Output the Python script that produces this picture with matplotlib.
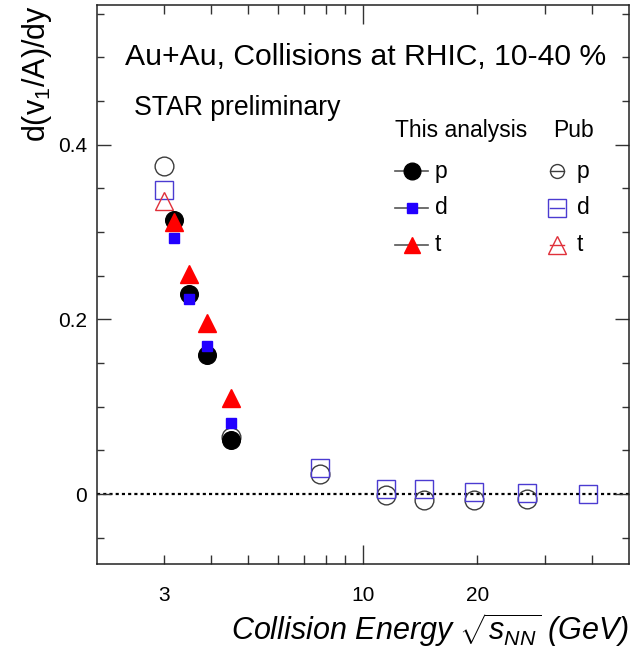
import matplotlib
matplotlib.use('Agg')
import matplotlib.pyplot as plt
from matplotlib.ticker import FixedLocator, MultipleLocator, FuncFormatter
from matplotlib.lines import Line2D

# Fontes estilo ROOT (Helvetica -> Liberation Sans)
plt.rcParams['font.family'] = 'Liberation Sans'
plt.rcParams['mathtext.fontset'] = 'custom'
plt.rcParams['mathtext.rm'] = 'Liberation Sans'
plt.rcParams['mathtext.it'] = 'Liberation Sans:italic'
plt.rcParams['mathtext.bf'] = 'Liberation Sans:bold'

# --- Dados ---
# Esta análise (pontos cheios)
energia_ta = [3.2, 3.5, 3.9, 4.5]
p_ta = [0.314, 0.229, 0.159, 0.062]
d_ta = [0.293, 0.223, 0.170, 0.082]
t_ta = [0.312, 0.252, 0.196, 0.110]

# Publicado (pontos abertos)
energia_pub_p = [3.0, 4.5, 7.7, 11.5, 14.5, 19.6, 27.0]
p_pub = [0.376, 0.065, 0.023, -0.001, -0.0065, -0.0065, -0.0054]
energia_pub_d = [3.0, 7.7, 11.5, 14.5, 19.6, 27.0, 39.0]
d_pub = [0.348, 0.0295, 0.0055, 0.006, 0.0026, 0.0015, 0.0003]
energia_pub_t = [3.0]
t_pub = [0.336]

rotulos_x = [3, 10, 20]

# cores
c_azul = '#2200ff'
c_vermelho = '#ff0000'
c_azul_pub = '#4b3bd1'
c_verm_pub = '#e0303a'
c_preto_pub = '#3c3c3c'

fig = plt.figure(figsize=(6.38, 6.52), dpi=100)
ax = fig.add_axes([96.7 / 638, 88 / 652, 532.3 / 638, 559 / 652])

# linha pontilhada em zero
ax.axhline(0, color='black', lw=1.6, ls=(0, (1.4, 1.4)), zorder=1)

# publicados
ax.plot(energia_pub_p, p_pub, 'o', ms=13.5, mfc='none', mec=c_preto_pub, mew=1.0, zorder=2)
ax.plot(energia_pub_d, d_pub, 's', ms=13.5, mfc='none', mec=c_azul_pub, mew=1.0, zorder=2)
ax.plot(energia_pub_t, t_pub, '^', ms=13.5, mfc='none', mec=c_verm_pub, mew=1.0, zorder=2)

# esta análise
ax.plot(energia_ta, p_ta, 'o', ms=12.7, color='black', mec='black', zorder=3)
ax.plot(energia_ta, d_ta, 's', ms=7.9, color=c_azul, mec=c_azul, zorder=4)
ax.plot(energia_ta, t_ta, '^', ms=12.6, color=c_vermelho, mec=c_vermelho, zorder=5)

# eixos
ax.set_xscale('log')
ax.set_xlim(2.0, 50)
ax.set_ylim(-0.08, 0.56)

fmt_x = FuncFormatter(lambda v, pos: f"{v:g}" if round(v) in rotulos_x else '')
ax.xaxis.set_major_locator(FixedLocator([10]))
ax.xaxis.set_minor_locator(FixedLocator([3, 4, 5, 6, 7, 8, 9, 20, 30, 40]))
ax.xaxis.set_major_formatter(fmt_x)
ax.xaxis.set_minor_formatter(fmt_x)

ax.yaxis.set_major_locator(MultipleLocator(0.2))
ax.yaxis.set_minor_locator(MultipleLocator(0.05))
ax.yaxis.set_major_formatter(FuncFormatter(lambda v, pos: f"{round(v, 2) + 0:g}"))

ax.tick_params(which='both', direction='in', top=True, right=True, color='#333333', labelsize=15)
ax.tick_params(axis='x', which='major', length=13.5, width=1.0, pad=16)
ax.tick_params(axis='x', which='minor', length=6.5, width=1.0, pad=16)
ax.tick_params(axis='y', which='major', length=10.3, width=1.0, pad=7)
ax.tick_params(axis='y', which='minor', length=5.3, width=1.0)
for sp in ax.spines.values():
    sp.set_linewidth(1.1)
    sp.set_color('#222222')

ax.set_ylabel('d(v$_1$/A)/dy', fontsize=22, loc='top', labelpad=3)
ax.set_xlabel(r'Collision Energy $\sqrt{s_{NN}}$ (GeV)', fontsize=22, style='italic',
              loc='right', labelpad=4)

# textos
ax.text(0.053, 0.8927, 'Au+Au, Collisions at RHIC, 10-40 %', fontsize=21.7,
        transform=ax.transAxes, va='baseline', ha='left')
ax.text(0.0700, 0.8032, 'STAR preliminary', fontsize=19.2,
        transform=ax.transAxes, va='baseline', ha='left')

# legenda manual
ax.text(0.5603, 0.7746, 'This analysis', fontsize=16.5, transform=ax.transAxes, va='center')
ax.text(0.857, 0.7746, 'Pub', fontsize=16.5, transform=ax.transAxes, va='center')

linhas_leg = [0.703, 0.6374, 0.5707]
nomes = ['p', 'd', 't']
estilo_ta = [('o', 12, 'black'), ('s', 6.5, c_azul), ('^', 12, c_vermelho)]
estilo_pub = [('o', 10, c_preto_pub), ('s', 13, c_azul_pub), ('^', 12.5, c_verm_pub)]
for yl, nome, (m1, s1, c1), (m2, s2, c2) in zip(linhas_leg, nomes, estilo_ta, estilo_pub):
    ax.add_line(Line2D([0.5603, 0.6223], [yl, yl], color='#555555', lw=1.2,
                       transform=ax.transAxes, zorder=6))
    ax.add_line(Line2D([0.5923], [yl], marker=m1, ms=s1, color=c1, mec=c1,
                       transform=ax.transAxes, zorder=7))
    ax.text(0.6355, yl, nome, fontsize=16.5, transform=ax.transAxes, va='center')
    ax.add_line(Line2D([0.8647 - 0.014, 0.8647 + 0.014], [yl, yl], color=c2, lw=1.0,
                       transform=ax.transAxes, zorder=6))
    ax.add_line(Line2D([0.8647], [yl], marker=m2, ms=s2, mfc='none', mec=c2, mew=1.0,
                       transform=ax.transAxes, zorder=7))
    ax.text(0.9024, yl, nome, fontsize=16.5, transform=ax.transAxes, va='center')

fig.savefig('out.png', dpi=100)
